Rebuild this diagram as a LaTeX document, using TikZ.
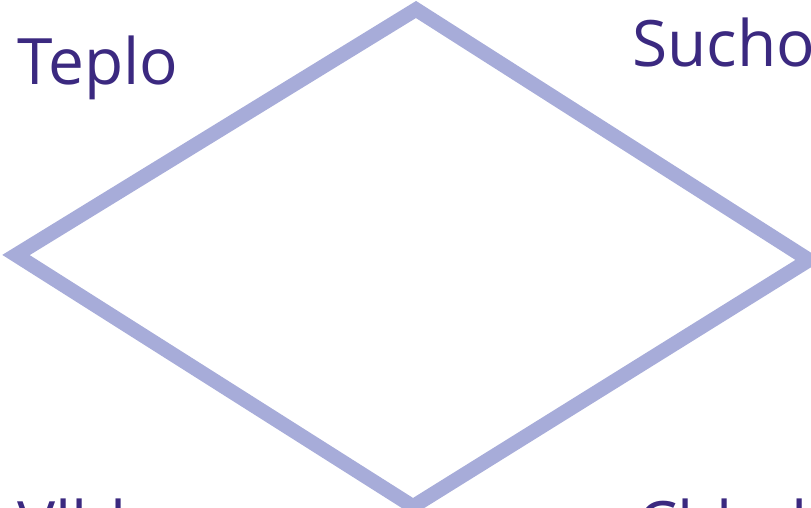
\documentclass[tikz,border=0pt]{standalone}
\usepackage{fontspec}
\setmainfont{Open Sans}
\definecolor{edgeblue}{HTML}{A7ACD9}
\definecolor{labelpurple}{HTML}{3B2980}
\begin{document}
\begin{tikzpicture}[x=1pt,y=-1pt,
  lbl/.style={anchor=base west,inner sep=0pt,text=labelpurple,font=\fontsize{64}{76}\selectfont},
  rhomb/.style={draw=edgeblue,line width=14.5pt,line join=miter}]
\useasboundingbox (0,0) rectangle (811,508);
\coordinate (T) at (416,9.5);
\coordinate (L) at (16,255);
\coordinate (R) at (809,260);
\coordinate (B) at (413,506.5);
\draw[rhomb] (T) -- (R) -- (B) -- (L) -- cycle;
\node[lbl] (teplo) at (17,85) {Teplo};
\node[lbl] (sucho) at (632,67) {Sucho};
\node[lbl] (vlhko) at (17,547) {Vlhko};
\node[lbl] (chladno) at (637,547) {Chladno};
\end{tikzpicture}
\end{document}
